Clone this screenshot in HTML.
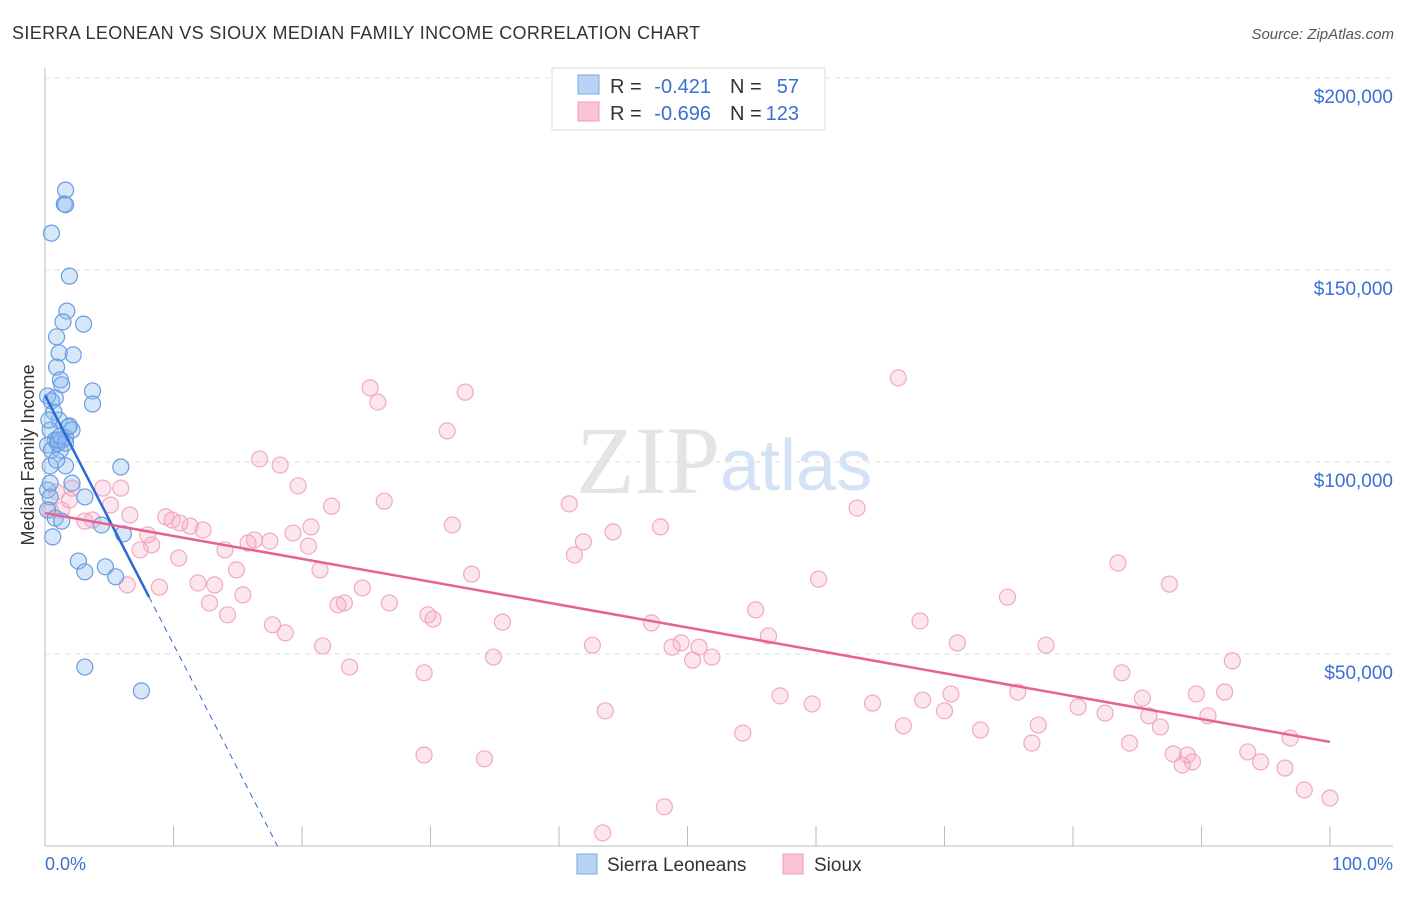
<!DOCTYPE html>
<html><head><meta charset="utf-8"><style>
body{margin:0;background:#fff;font-family:"Liberation Sans",sans-serif;}
</style></head><body>
<svg width="1406" height="892" xmlns="http://www.w3.org/2000/svg" id="svg" style="font-family:'Liberation Sans',sans-serif">
<text x="12" y="39" font-size="18" fill="#333" letter-spacing="0.35">SIERRA LEONEAN VS SIOUX MEDIAN FAMILY INCOME CORRELATION CHART</text>
<text x="1394" y="39" font-size="15" fill="#555" text-anchor="end" font-style="italic">Source: ZipAtlas.com</text>
<text transform="translate(34,455) rotate(-90)" font-size="18" fill="#333" text-anchor="middle">Median Family Income</text>
<text x="45" y="870" font-size="18" fill="#3b6fd4">0.0%</text>
<text x="1393" y="870" font-size="18" fill="#3b6fd4" text-anchor="end">100.0%</text>
<text x="720" y="493" font-size="96" fill="#e4e4e4" text-anchor="end" font-family="Liberation Serif">ZIP</text>
<text x="720" y="490" font-size="72" fill="#d3e2f4">atlas</text>
<g id="grid"></g>
<g id="pts"></g>
<g id="lines"></g>
<g>
<rect x="552" y="68" width="273" height="62" fill="#fff" stroke="#ddd"/>
<rect x="578" y="75" width="21" height="19" fill="#b9d3f5" stroke="#7aa7e6"/>
<rect x="578" y="102" width="21" height="19" fill="#f9c4d4" stroke="#f09ab5"/>
<text x="610" y="93" font-size="20" fill="#333">R =</text>
<text x="711" y="93" font-size="20" fill="#3b6fd4" text-anchor="end">-0.421</text>
<text x="730" y="93" font-size="20" fill="#333">N =</text>
<text x="799" y="93" font-size="20" fill="#3b6fd4" text-anchor="end">57</text>
<text x="610" y="120" font-size="20" fill="#333">R =</text>
<text x="711" y="120" font-size="20" fill="#3b6fd4" text-anchor="end">-0.696</text>
<text x="730" y="120" font-size="20" fill="#333">N =</text>
<text x="799" y="120" font-size="20" fill="#3b6fd4" text-anchor="end">123</text>
</g>
<g>
<rect x="577" y="854" width="20" height="20" fill="#b9d3f5" stroke="#7aa7e6"/>
<text x="607" y="871" font-size="19" fill="#333">Sierra Leoneans</text>
<rect x="783" y="854" width="20" height="20" fill="#f9c4d4" stroke="#f09ab5"/>
<text x="814" y="871" font-size="19" fill="#333">Sioux</text>
</g>
</svg>
<script>
const yTicks=[50,100,150,200];
const yTickLabels=["$50,000","$100,000","$150,000","$200,000"];
const xTicks=[10,20,30,40,50,60,70,80,90,100];
const blueX=[1.6,1.5,1.6,0.5,1.9,1.7,1.4,3.0,0.9,1.1,2.2,0.9,1.2,1.3,3.7,0.8,0.2,0.5,3.7,1.1,1.8,2.1,0.4,0.8,1.3,0.2,0.5,1.2,1.6,1.0,5.9,1.6,0.4,2.1,0.2,3.1,0.4,0.2,0.8,1.3,4.4,6.1,0.6,2.6,3.1,4.7,5.5,3.1,7.5,1.0,1.2,1.6,0.7,0.3,0.9,0.4,1.9];
const blueY=[170.8,167.2,167.0,159.6,148.4,139.3,136.5,135.9,132.6,128.4,127.9,124.7,121.4,120.1,118.5,116.7,117.2,115.9,115.1,110.9,109.1,108.3,108.3,105.7,105.7,104.4,103.1,103.1,106.3,104.9,98.7,99.0,99.0,94.5,92.7,90.9,90.9,87.5,85.4,84.6,83.6,81.3,80.5,74.2,71.4,72.7,70.1,46.6,40.4,105.7,106.8,104.9,113.0,110.9,100.5,94.5,109.4];
const pinkX=[1.3,1.9,3.1,3.7,4.5,5.1,5.9,6.6,6.4,7.4,8.0,8.3,8.9,9.4,9.9,10.5,10.4,11.3,11.9,12.3,12.8,13.2,14.0,14.2,14.9,15.4,15.8,16.3,16.7,17.5,17.7,18.3,18.7,19.3,19.7,20.5,20.7,21.4,21.6,22.3,22.8,23.3,23.7,24.7,25.3,25.9,26.4,26.8,29.5,29.5,29.8,30.2,31.3,31.7,32.7,33.2,34.2,34.9,35.6,40.8,41.2,41.9,42.6,43.6,44.2,43.4,47.2,47.9,48.2,48.8,49.5,50.4,50.9,51.9,54.3,55.3,56.3,57.2,59.7,60.2,63.2,64.4,66.4,66.8,68.1,68.3,70.0,70.5,71.0,72.8,74.9,75.7,76.8,77.3,77.9,80.4,82.5,83.5,83.8,84.4,85.4,85.9,86.8,87.5,87.8,88.5,88.9,89.3,89.6,90.5,91.8,92.4,93.6,94.6,96.9,96.5,98.0,100.0,0.9,0.4,2.1];
const pinkY=[87.5,90.1,84.6,84.9,93.2,88.8,93.2,86.2,68.0,77.1,81.0,78.4,67.4,85.7,84.9,84.1,75.0,83.3,68.5,82.3,63.3,68.0,77.1,60.2,71.9,65.4,78.9,79.7,100.8,79.4,57.6,99.2,55.5,81.5,93.8,78.1,83.1,71.9,52.1,88.5,62.8,63.3,46.6,67.2,119.3,115.6,89.8,63.3,23.7,45.1,60.2,59.1,108.1,83.6,118.2,70.8,22.7,49.2,58.3,89.1,75.8,79.2,52.3,35.2,81.8,3.4,58.1,83.1,10.2,51.8,52.9,48.4,51.8,49.2,29.4,61.5,54.7,39.1,37.0,69.5,88.0,37.2,121.9,31.3,58.6,38.0,35.2,39.6,52.9,30.2,64.8,40.1,26.8,31.5,52.3,36.2,34.6,73.7,45.1,26.8,38.5,33.9,31.0,68.2,24.0,21.1,23.7,21.9,39.6,33.9,40.1,48.2,24.5,21.9,28.1,20.3,14.6,12.5,92.2,87.5,93.2];
const blueFit=[117.4,-6.49];
const pinkFit=[86.7,-0.596];
const X=v=>45+v*12.85, Y=v=>846-v*3.84;
const NS="http://www.w3.org/2000/svg";
function mk(p,t,a){const e=document.createElementNS(NS,t);for(const k in a)e.setAttribute(k,a[k]);document.getElementById(p).appendChild(e);return e;}
let e=mk('grid','line',{x1:45,y1:68,x2:45,y2:846,stroke:'#bbb'});


e=mk('grid','line',{x1:45,y1:846,x2:1393,y2:846,stroke:'#bbb'});


yTicks.forEach((t,i)=>{
 let g=mk('grid','line',{x1:45,y1:Y(t),x2:1393,y2:Y(t),stroke:'#ddd','stroke-dasharray':'5,5'});
 
 
 let l=mk('grid','text',{x:1393,y:Y(t)+25,'font-size':19,fill:'#3b6fd4','text-anchor':'end'});
 l.textContent=yTickLabels[i];
 
 
});
xTicks.forEach(t=>{
 let g=mk('grid','line',{x1:X(t),y1:826,x2:X(t),y2:846,stroke:'#bbb'});
 
 
});
pinkX.forEach((x,i)=>{
 let c=mk('pts','circle',{cx:X(x),cy:Y(pinkY[i]),r:8,fill:'rgba(245,165,192,0.28)',stroke:'#f2a8c1','stroke-width':1.2});
 
 
});
blueX.forEach((x,i)=>{
 let c=mk('pts','circle',{cx:X(x),cy:Y(blueY[i]),r:8,fill:'rgba(140,185,240,0.35)',stroke:'#6a9de0','stroke-width':1.2});
 
 
});
const bEnd=8.1, bZero=-blueFit[0]/blueFit[1];
e=mk('lines','line',{x1:X(0),y1:Y(blueFit[0]),x2:X(bEnd),y2:Y(blueFit[0]+blueFit[1]*bEnd),stroke:'#2b6ad6','stroke-width':2.5});


e=mk('lines','line',{x1:X(bEnd),y1:Y(blueFit[0]+blueFit[1]*bEnd),x2:X(bZero),y2:Y(0),stroke:'#2b6ad6','stroke-width':1,'stroke-dasharray':'6,5'});


e=mk('lines','line',{x1:X(0),y1:Y(pinkFit[0]),x2:X(100),y2:Y(pinkFit[0]+pinkFit[1]*100),stroke:'#e8628f','stroke-width':2.5});


</script>
</body></html>
